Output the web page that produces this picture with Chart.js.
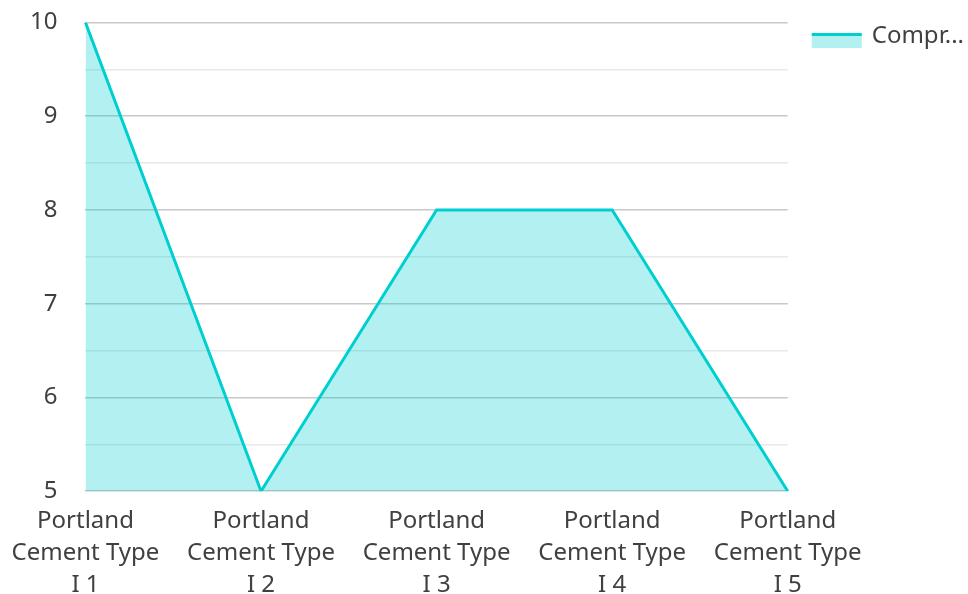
<!DOCTYPE html>
<html>
<head>
<meta charset="utf-8">
<script src="https://cdn.jsdelivr.net/npm/chart.js@4"></script>
<style>
  html, body { margin: 0; padding: 0; background: #fff; }
  #wrap { width: 968px; height: 594px; }
</style>
</head>
<body>
<div id="wrap"><canvas id="chart"></canvas></div>
<script>
// data
let categories = [
    ["Portland", "Cement Type", "I 1"],
    ["Portland", "Cement Type", "I 2"],
    ["Portland", "Cement Type", "I 3"],
    ["Portland", "Cement Type", "I 4"],
    ["Portland", "Cement Type", "I 5"]
];
let strength = [10, 5, 8, 8, 5];
let seriesName = "Compressive Strength";
let yTicks = [5, 6, 7, 8, 9, 10];

let lineColor = "#00cfd0";
let fillColor = "rgba(0, 206, 209, 0.3)";

Chart.defaults.font.family = "'Noto Sans', 'Open Sans', sans-serif";
Chart.defaults.font.size = 24;
Chart.defaults.color = "#404040";

// legend swatch: light fill with the line on its top edge
let legendSwatch = {
    id: "legendSwatch",
    afterDraw: function(c) {
        let boxes = c.legend.legendHitBoxes;
        if (!boxes || !boxes.length) return;
        let b = boxes[0];
        let ctx = c.ctx;
        let top = b.top + b.height / 2 - 3;
        ctx.save();
        ctx.fillStyle = fillColor;
        ctx.fillRect(b.left + 2, top, 50, 15);
        ctx.fillStyle = lineColor;
        ctx.fillRect(b.left + 2, top, 50, 3);
        ctx.restore();
    }
};

let chart = new Chart(document.getElementById("chart"), {
    type: "line",
    data: {
        labels: categories,
        datasets: [{
            label: seriesName,
            data: strength,
            borderColor: lineColor,
            backgroundColor: fillColor,
            borderWidth: 3,
            fill: "origin",
            pointRadius: 0,
            tension: 0
        }]
    },
    plugins: [legendSwatch],
    options: {
        responsive: true,
        maintainAspectRatio: false,
        animation: false,
        layout: { padding: { top: 2, right: -6, left: 22, bottom: -13 } },
        plugins: {
            tooltip: { enabled: false },
            legend: {
                position: "right",
                align: "start",
                labels: {
                    boxWidth: 50,
                    boxHeight: 16,
                    padding: 22,
                    font: { size: 24 },
                    generateLabels: function(c) {
                        let items = Chart.defaults.plugins.legend.labels.generateLabels(c);
                        items.forEach(function(it) {
                            it.text = it.text.slice(0, 5) + "...";
                            it.lineWidth = 0;
                            it.fillStyle = "rgba(0,0,0,0)";
                        });
                        return items;
                    }
                }
            }
        },
        scales: {
            x: {
                offset: false,
                grid: { display: false },
                border: { display: false },
                ticks: {
                    maxRotation: 0,
                    autoSkip: false,
                    padding: 6,
                    font: { size: 24, lineHeight: 1.33 }
                }
            },
            y: {
                min: yTicks[0],
                max: yTicks[yTicks.length - 1],
                border: { display: false },
                grid: {
                    drawTicks: true,
                    tickLength: 20,
                    tickColor: "rgba(0,0,0,0)",
                    lineWidth: 1.5,
                    color: function(ctx) {
                        return Number.isInteger(ctx.tick.value) ? "#c8c8c8" : "#e8e8e8";
                    }
                },
                ticks: {
                    stepSize: 0.5,
                    padding: 8,
                    callback: function(v) {
                        return Number.isInteger(v) ? v : "";
                    }
                }
            }
        }
    }
});
</script>
</body>
</html>
